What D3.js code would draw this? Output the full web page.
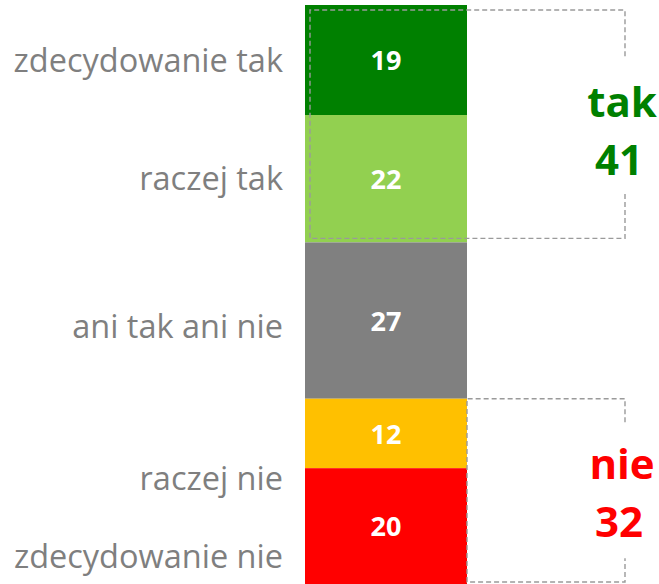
<!DOCTYPE html>
<html>
<head>
<meta charset="utf-8">
<script src="https://cdn.jsdelivr.net/npm/d3@7"></script>
<style>
body{margin:0;background:#fff;}
svg{display:block;}
</style>
</head>
<body>
<svg id="myGraph" width="659" height="584"></svg>
<script>
// dane
var categories = ["zdecydowanie tak","raczej tak","ani tak ani nie","raczej nie","zdecydowanie nie"];
var values = [19,22,27,12,20];
var colors = ["#008000","#92D050","#808080","#FFC000","#FF0000"];
var groupNames = ["tak","nie"];
var groupFrom = [0,3];	// indeks pierwszej kategorii w grupie
var groupTo = [1,4];	// indeks ostatniej
var groupColors = ["#008000","#FF0000"];
var labelNudge = [0,0,6,45,30];	// przesunięcie etykiet w pionie

var svg = d3.select("#myGraph");
var barX = 305, barW = 162;
var ends = Array.from(d3.cumsum(values));
var starts = ends.map(function(d,i){ return d - values[i]; });

var yScale = d3.scaleLinear()
	.domain([0, d3.sum(values)])
	.range([5, 584]);

// słupek
svg.selectAll("rect.seg")
	.data(values)
	.enter()
	.append("rect")
	.attr("class","seg")
	.attr("x", barX)
	.attr("y", function(d,i){ return yScale(starts[i]); })
	.attr("width", barW)
	.attr("height", function(d,i){ return yScale(ends[i]) - yScale(starts[i]); })
	.attr("fill", function(d,i){ return colors[i]; });

// wartości w słupku
svg.selectAll("text.val")
	.data(values)
	.enter()
	.append("text")
	.attr("class","val")
	.attr("x", barX + barW/2)
	.attr("y", function(d,i){ return (yScale(starts[i]) + yScale(ends[i]))/2; })
	.attr("dy","0.38em")
	.attr("text-anchor","middle")
	.attr("font-family","'Open Sans', sans-serif")
	.attr("font-weight","bold")
	.attr("font-size",27)
	.attr("fill","#fff")
	.text(function(d){ return d; });

// etykiety kategorii
svg.selectAll("text.cat")
	.data(categories)
	.enter()
	.append("text")
	.attr("class","cat")
	.attr("x", 283)
	.attr("y", function(d,i){ return (yScale(starts[i]) + yScale(ends[i]))/2 + labelNudge[i]; })
	.attr("dy","0.36em")
	.attr("text-anchor","end")
	.attr("font-family","'Open Sans', sans-serif")
	.attr("font-size",32.5)
	.attr("fill","#7f7f7f")
	.text(function(d){ return d; });

// nawiasy grup
var brLeft = [310, barX + barW];
var brRight = 625;
var brPad = [[5,-4],[0,-2]];
var gapHalf = 68;
var textShift = [3,-1];

groupNames.forEach(function(name,g){
	var y0 = yScale(starts[groupFrom[g]]) + brPad[g][0];
	var y1 = yScale(ends[groupTo[g]]) + brPad[g][1];
	var mid = (y0 + y1)/2;
	var total = d3.sum(values.slice(groupFrom[g], groupTo[g]+1));
	var path = d3.path();
	path.moveTo(brRight, mid - gapHalf);
	path.lineTo(brRight, y0);
	path.lineTo(brLeft[g], y0);
	path.lineTo(brLeft[g], y1);
	path.lineTo(brRight, y1);
	path.lineTo(brRight, mid + gapHalf);
	svg.append("path")
		.attr("d", path.toString())
		.attr("fill","none")
		.attr("stroke","#9a9a9a")
		.attr("stroke-width",1.4)
		.attr("stroke-dasharray","5,3");

	var t = svg.append("text")
		.attr("text-anchor","middle")
		.attr("font-family","'Open Sans', sans-serif")
		.attr("font-weight","bold")
		.attr("font-size",42)
		.attr("fill", groupColors[g]);
	t.append("tspan").attr("x", brRight - 3).attr("y", mid - 10 + textShift[g]).text(name);
	t.append("tspan").attr("x", brRight - 6).attr("y", mid + 48 + textShift[g]).text(total);
});
</script>
</body>
</html>
